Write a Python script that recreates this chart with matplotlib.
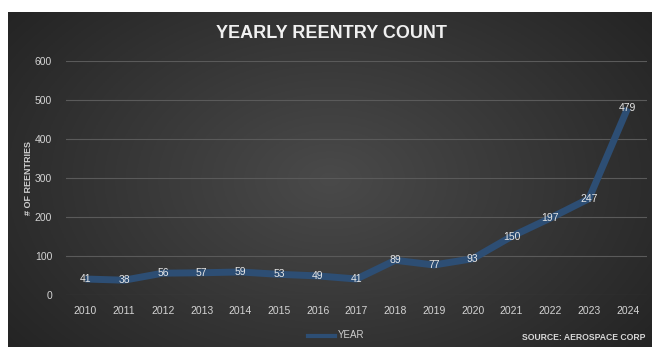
import numpy as np
import matplotlib
matplotlib.use("Agg")
import matplotlib.pyplot as plt

years = ["2010", "2011", "2012", "2013", "2014", "2015", "2016", "2017",
         "2018", "2019", "2020", "2021", "2022", "2023", "2024"]
reentries = [41, 38, 56, 57, 59, 53, 49, 41, 89, 77, 93, 150, 197, 247, 479]
yticks = [0, 100, 200, 300, 400, 500, 600]

plt.rcParams["font.family"] = ["Liberation Sans", "DejaVu Sans"]

W, H = 652, 347
fig = plt.figure(figsize=(W / 100, H / 100), dpi=100, facecolor="white")

# dark panel with soft radial gradient
bg = fig.add_axes([8 / W, 0, 1 - 8 / W, 1 - 12 / H])
bg.set_axis_off()
gx, gy = np.meshgrid(np.linspace(-1, 1, 300), np.linspace(-1, 1, 160))
r = np.sqrt((gx * 0.9) ** 2 + (gy * 0.7) ** 2)
shade = np.clip(0.29 - 0.13 * r, 0.14, 0.3)
bg.imshow(np.dstack([shade, shade, shade]), aspect="auto", extent=[0, 1, 0, 1])
bg.set_xlim(0, 1)
bg.set_ylim(0, 1)

# plot area: x 66..647 px, y(0)=295, y(600)=61
left, right = 66, 647
y0, y600 = 295, 61
ax = fig.add_axes([left / W, (H - y0) / H, (right - left) / W, (y0 - y600) / H])
ax.patch.set_alpha(0)
x = np.arange(len(years))
ax.plot(x, reentries, color="#2d4e74", lw=5, solid_capstyle="butt",
        solid_joinstyle="round", zorder=3)
for xi, v in zip(x, reentries):
    ax.text(xi, v, str(v), ha="center", va="center", color="#e6e6e6",
            fontsize=7.5, zorder=4)

ax.set_xlim(-0.5, len(years) - 0.5)
ax.set_ylim(0, 600)
ax.set_yticks(yticks)
ax.set_xticks(x)
ax.set_xticklabels(years)
ax.tick_params(colors="#d4d4d4", labelsize=7.5, length=0)
ax.tick_params(axis="x", pad=8)
ax.tick_params(axis="y", pad=10)
ax.grid(axis="y", color="#5a5a5a", lw=0.8)
ax.set_axisbelow(True)
for s in ax.spines.values():
    s.set_visible(False)

fig.text(332 / W, 1 - 34 / H, "YEARLY REENTRY COUNT", ha="center", va="center",
         color="#f0f0f0", fontsize=13, fontweight="bold")
fig.text(29 / W, 1 - 178 / H, "# OF REENTRIES", ha="center", va="center",
         rotation=90, color="#cfcfcf", fontsize=6.5, fontweight="bold")

# legend
fig.add_artist(plt.Line2D([308 / W, 335 / W], [1 - 336 / H, 1 - 336 / H],
                          color="#2d4e74", lw=3))
fig.text(338 / W, 1 - 335 / H, "YEAR", ha="left", va="center",
         color="#cfcfcf", fontsize=7)
fig.text(645 / W, 1 - 337 / H, "SOURCE: AEROSPACE CORP", ha="right", va="center",
         color="#d8d8d8", fontsize=6.2, fontweight="bold")

fig.savefig("out.png", dpi=100, facecolor="white")
